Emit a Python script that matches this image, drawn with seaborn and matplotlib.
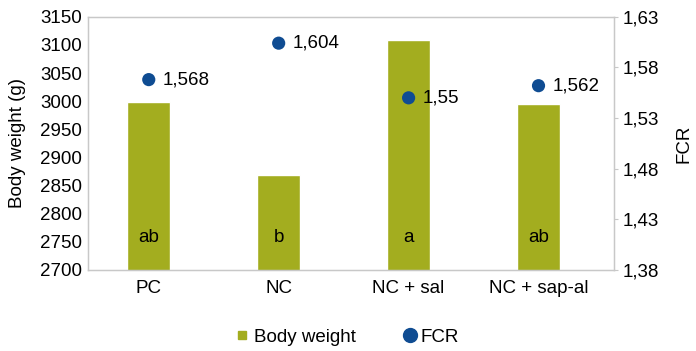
import matplotlib
matplotlib.use('Agg')
import matplotlib.pyplot as plt
import seaborn as sns
import pandas as pd
from matplotlib.lines import Line2D

# values
groups = ['PC', 'NC', 'NC + sal', 'NC + sap-al']
body_weight = [2998, 2868, 3109, 2995]
fcr = [1.568, 1.604, 1.55, 1.562]
fcr_labels = ['1,568', '1,604', '1,55', '1,562']
letters = ['ab', 'b', 'a', 'ab']
left_ticks = list(range(2700, 3151, 50))
right_ticks = [1.38, 1.43, 1.48, 1.53, 1.58, 1.63]

bar_col = '#a3ad1f'
dot_col = '#0f4c92'
grey = '#c8c8c8'
fs = 13.5

sns.set_style('white')
plt.rcParams['font.family'] = ['Liberation Sans', 'DejaVu Sans']
plt.rcParams['font.size'] = fs
plt.rcParams['text.color'] = 'black'
plt.rcParams['axes.labelcolor'] = 'black'

df = pd.DataFrame({'group': groups, 'bw': body_weight, 'fcr': fcr})

fig = plt.figure(figsize=(6.96, 3.51), dpi=100)
ax = fig.add_axes([0.126, 0.231, 0.756, 0.721])

sns.barplot(data=df, x='group', y='bw', color=bar_col, width=0.33,
            saturation=1, ax=ax)
ax.set_ylim(2700, 3150)
ax.set_yticks(left_ticks)
ax.set_ylabel('Body weight (g)', fontsize=fs, labelpad=10)
ax.set_xlabel('')
ax.tick_params(axis='both', length=0, labelsize=fs, labelcolor='black')
ax.tick_params(axis='x', pad=7)
ax.tick_params(axis='y', pad=4)
for s in ax.spines.values():
    s.set_color(grey)
    s.set_linewidth(1)

for i, t in enumerate(letters):
    ax.text(i, 2758, t, ha='center', va='center', fontsize=fs)

ax2 = ax.twinx()
sns.scatterplot(data=df, x='group', y='fcr', color=dot_col, s=90,
                edgecolor='none', ax=ax2, legend=False)
ax2.set_ylim(1.38, 1.63)
ax2.set_yticks(right_ticks)
ax2.set_yticklabels([f'{v:.2f}'.replace('.', ',') for v in right_ticks])
ax2.set_ylabel('FCR', fontsize=fs, labelpad=12)
ax2.tick_params(axis='y', length=3, color=grey, labelsize=fs, pad=3,
                labelcolor='black')
for s in ax2.spines.values():
    s.set_color(grey)
for i, (v, lab) in enumerate(zip(fcr, fcr_labels)):
    ax2.annotate(lab, (i, v), xytext=(10, 0), textcoords='offset points',
                 ha='left', va='center', fontsize=fs)

ax.set_xlim(-0.47, 3.58)

handles = [Line2D([], [], marker='s', linestyle='none', color=bar_col,
                  markersize=6, label='Body weight'),
           Line2D([], [], marker='o', linestyle='none', color=dot_col,
                  markersize=10, label='FCR')]
fig.legend(handles=handles, loc='center', bbox_to_anchor=(0.5, 0.04),
           ncol=2, frameon=False, fontsize=fs, handlelength=0.6,
           columnspacing=2.6, handletextpad=0.3)

fig.savefig('out.png', dpi=100)
